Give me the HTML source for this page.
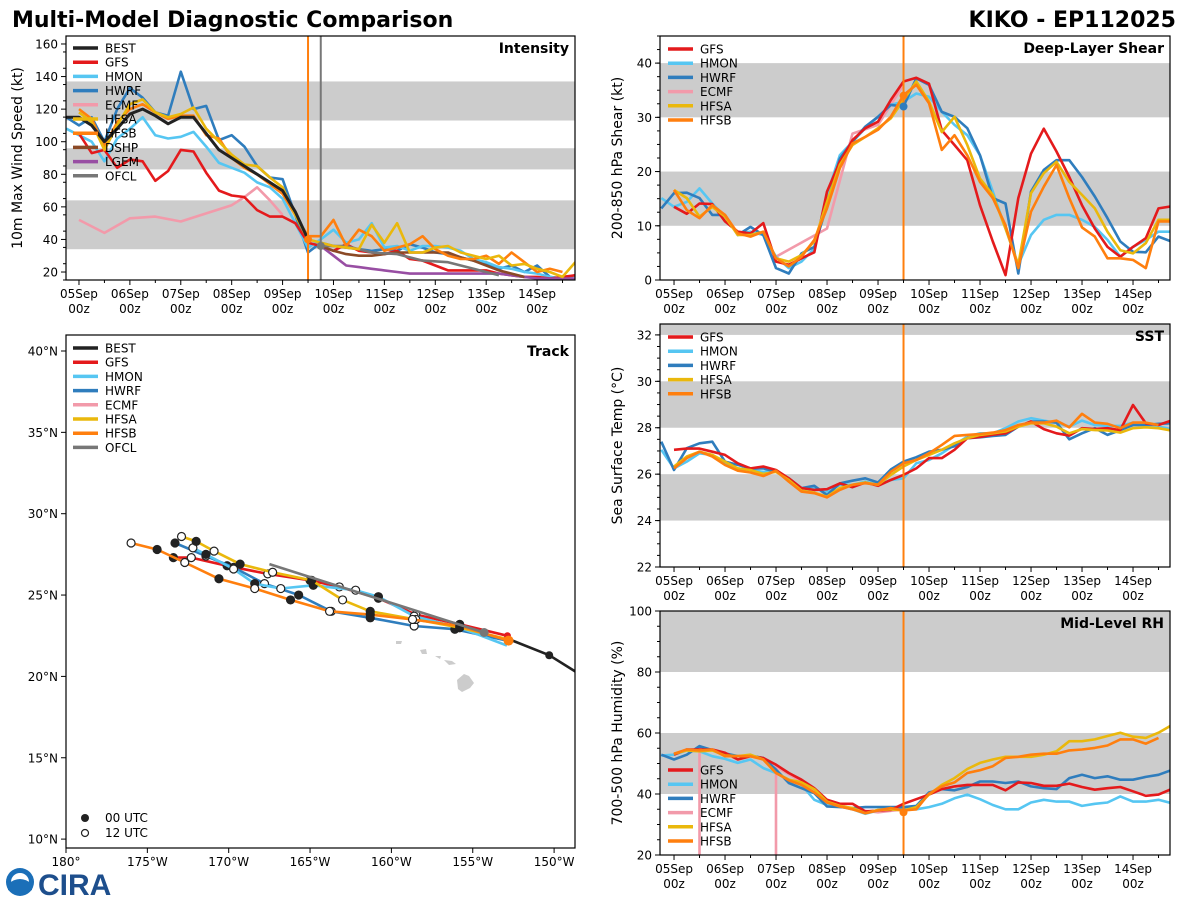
<!DOCTYPE html>
<html><head><meta charset="utf-8">
<style>
html,body{margin:0;padding:0;background:#fff;}
svg{display:block;font-family:"DejaVu Sans","Liberation Sans",sans-serif;}
</style></head>
<body>
<svg id="fig" width="1200" height="900" viewBox="0 0 1200 900" xmlns="http://www.w3.org/2000/svg">
<rect x="0" y="0" width="1200" height="900" fill="#fff"/>
<text x="12" y="27" font-size="22" font-weight="bold">Multi-Model Diagnostic Comparison</text>
<text x="1176" y="27" font-size="22" font-weight="bold" text-anchor="end">KIKO - EP112025</text>
<g>
<circle cx="20" cy="882" r="14" fill="#1b6fb8"/>
<circle cx="20" cy="882" r="9" fill="#fff"/>
<path d="M8 884 Q20 874 32 884 L32 890 Q20 896 8 890 Z" fill="#1b6fb8"/>
<text x="38" y="895" font-size="30" font-weight="bold" fill="#1d4e8c" font-family="Liberation Sans, sans-serif">CIRA</text>
</g>
</svg>
<script>
const NS='http://www.w3.org/2000/svg';
const svg=document.getElementById('fig');
// ---------- data ----------
const dayLabels=['05Sep','06Sep','07Sep','08Sep','09Sep','10Sep','11Sep','12Sep','13Sep','14Sep'];
const intTicks=[20,40,60,80,100,120,140,160];
const shearTicks=[0,10,20,30,40];
const sstTicks=[22,24,26,28,30,32];
const rhTicks=[20,40,60,80,100];
const latTicks=[10,15,20,25,30,35,40];
const lonTicks=[-180,-175,-170,-165,-160,-155,-150];
const initDay=4.5;
const ofclDay=4.75;

// intensity (6-hourly, start day given)
const intBEST=[115,115,110,100,108,117,120,116,111,115,115,105,95,90,85,80,75,70,57,40];
const intGFS=[105,93,95,84,89,88,76,82,95,94,81,70,67,66,58,54,54,50,38,36,33,37,33,32,31,33,28,27,24,21,21,21,21,19,18,17,17,16,17,18];
const intHMON=[108,104,100,88,102,108,115,104,102,103,106,97,87,84,81,75,72,65,50,35,40,46,38,40,50,35,36,33,36,36,35,33,28,26,23,22,20,19,17,16,18];
const intHWRF=[115,110,115,100,120,133,127,118,116,143,120,122,101,104,97,85,78,77,55,32,38,36,35,34,33,34,33,37,35,32,31,29,27,25,22,24,20,24,17,16,18];
const intHFSA=[118,112,95,110,123,126,118,115,117,121,108,100,92,86,85,78,72,55,40,38,36,35,34,49,38,50,32,32,35,36,32,30,28,30,24,25,22,20,17,26];
const intHFSB=[120,114,97,112,120,123,118,114,116,116,104,102,90,84,80,74,68,55,42,42,52,36,46,42,33,35,37,42,34,30,28,28,30,25,32,26,20,22,20];
const intECMFDays=[0,0.5,1,1.5,2,2.5,3,3.25,3.5,3.75,4];
const intECMF=[52,44,53,54,51,56,61,66,72,64,55];
const intDSHP=[36,33,31,30,30,31,32,32,32,32,32,29,27,24,21,19,17];
const intLGEM=[36,30,24,23,22,21,20,19,19,19,19,19,19,19,19,18,17,16,16,16,16];
const intOFCLDays=[4.75,5.25,5.75,6.25,6.75,7.25,7.75,8.25];
const intOFCL=[36,36,32,31,27,26,22,18];

// shear
const shGFS=[13.5,12.2,14.1,14.0,10.8,8.9,8.6,10.5,3.4,2.8,4.0,5.1,16.3,21.8,25.8,28,29.2,33.2,36.6,37.3,36.2,27.6,24.9,22.1,13.8,7.1,0.9,15.1,23.3,27.9,23.7,19.0,13.8,9.5,6.1,4.3,6.1,7.7,13.2,13.6];
const shHWRF=[13.2,16,16.1,15.1,12,12,8.3,9.8,8.3,2.2,1.2,4.9,6.1,13.8,22.4,25.5,28.3,30.1,32.3,32,37.2,36,31,30.1,28,23,15.1,14.1,1.2,16.3,20.3,22.1,22.1,19,15.4,11.4,7.1,5.2,5.1,8,7.1];
const shHMON=[15.1,13.5,14.4,16.9,14.1,11.7,8.6,8.9,8.3,4.3,2.2,3.4,5.8,15.7,23,25.5,28,30.1,32.3,32.9,34.4,33.8,31,28.6,26.7,23,16.3,9.5,2.8,8.3,11.1,12,12,11.1,9.8,7.4,4.3,6.1,7.4,8.9,8.9];
const shHFSA=[16.6,15.1,11.7,13.5,11.7,8.3,8.3,8.9,4,3.4,4.6,7.1,14.4,21.2,24.9,26.4,28,29.8,33.2,36.6,32.9,27.3,30.1,24.9,18.7,15.7,9.5,2.8,16,19.7,21.8,18.1,15.7,13.2,8.9,5.5,4.9,6.8,11.1,11.1];
const shHFSB=[16.6,12.9,11.4,13.8,12,8.6,8,8.9,4,2.5,4.3,7.4,13.2,20.6,25.2,26.4,27.7,30.1,34.1,36,32.6,24,26.7,23,18.1,15.1,10.1,2.2,12.6,17.2,21.2,15.1,9.7,8,4,4,3.7,2.2,10.8,10.8];
const shECMFDays=[2,3,3.5,4,4.5];
const shECMF=[4.3,9.5,27,28.6,36];

// SST
const sstGFS=[27.05,27.1,27.1,26.97,26.83,26.47,26.25,26.33,26.18,25.82,25.4,25.32,25.35,25.6,25.44,25.64,25.5,25.75,25.97,26.25,26.69,26.69,27.05,27.55,27.6,27.7,27.76,28.05,28.27,27.94,27.76,27.66,27.98,27.94,27.98,27.9,28.98,28.19,28.12,28.31];
const sstHWRF=[27.4,26.18,27.12,27.33,27.4,26.54,26.4,26.25,26.25,26.1,25.82,25.4,25.5,25.1,25.6,25.72,25.82,25.64,26.2,26.54,26.73,26.97,27.05,27.2,27.55,27.59,27.65,27.69,28.05,28.27,28.27,28.22,27.5,27.76,27.98,27.69,27.9,28.12,28.12,28.17,28.19];
const sstHMON=[27.05,26.25,26.54,26.9,26.83,26.47,26.25,26.18,26.1,26.15,25.75,25.32,25.4,25.25,25.54,25.54,25.68,25.54,25.75,25.82,26.47,26.61,26.9,27.26,27.62,27.76,27.76,27.98,28.27,28.41,28.31,28.22,28.05,28.31,28.12,28.08,28.08,28.22,28.12,28.05,27.94];
const sstHFSA=[26.33,26.76,26.97,26.83,26.54,26.25,26.18,26.01,26.1,25.75,25.29,25.2,25.03,25.4,25.54,25.64,25.54,25.97,26.33,26.61,26.83,27.05,27.33,27.55,27.69,27.76,27.84,28.05,28.19,28.19,28.05,27.76,27.94,27.9,27.88,27.79,27.98,28.02,27.98,27.88];
const sstHFSB=[26.25,26.69,26.97,26.76,26.4,26.15,26.07,25.92,26.15,25.68,25.25,25.18,25.0,25.32,25.54,25.61,25.54,26.1,26.47,26.61,26.9,27.26,27.65,27.69,27.73,27.79,27.9,28.12,28.22,28.22,28.31,28.02,28.6,28.22,28.17,27.98,28.22,28.22,28.12];

// RH
const rhGFS=[52.9,54.6,54.6,54.6,53.5,51.3,52.4,51.8,49.6,46.9,44.7,41.9,38.1,36.8,36.8,34.3,34.6,34.8,36.8,38.3,39.8,41.6,42.5,43,43,43,41.2,43.8,43.6,42.7,42.7,43.4,42.3,41.4,41.9,42.3,40.9,39.4,39.8,41.6];
const rhHWRF=[52.9,51.3,52.9,55.7,54.4,53.3,52.4,52.6,51.8,48,43.6,41.9,40.3,35.9,35.7,35.4,35.7,35.7,35.7,35.7,36.1,40.5,41.6,41.2,42.3,44.1,44.1,43.6,44.1,42.5,41.9,41.6,45.2,46.3,45.2,45.8,44.7,44.7,45.6,46.3,47.8];
const rhHMON=[52.6,52.9,54.3,54.0,52.4,51.5,50.2,51.3,48.5,46.9,44.7,43,38.1,36.4,35.9,35.0,33.5,34.6,35.0,35.0,35.0,35.7,36.8,38.6,39.8,38.3,36.4,35.0,35.0,37.2,38.1,37.5,37.5,36.1,36.8,37.2,39.2,37.5,37.5,38.1,37.0];
const rhHFSA=[53.2,54.3,54.0,54.3,52.6,52.4,52.9,51.3,46.9,44.7,43.8,41.6,37.5,36.1,35.4,33.7,34.8,35,34.6,35.7,39.8,43,45.2,48.2,50.2,51.3,52.2,52.2,52.2,52.9,54,57.3,57.3,57.9,59,60.1,58.8,58.4,60.1,62.5];
const rhHFSB=[53.2,54.6,54.3,54.6,52.4,52.4,52.4,51.3,46.9,44.5,43,40.5,37.2,35.9,35,33.7,34.6,35.4,34.6,35,40.1,42.5,43.8,46.9,47.8,49.1,51.8,52.2,52.9,53.2,53.2,54.3,54.6,55.1,55.9,57.9,57.9,56.5,58.4];
const rhECMFDays=[0.5,0.5,null,2,2,2.5,3,3.5,4,4.5];
const rhECMF=[0,55,null,0,49,44,38,35,34,35];

// track (lon, lat) 12-hourly
const trBESTLon=[-147.5,-148.7,-150.3,-152.8];
const trBESTLat=[19.6,20.3,21.3,22.3];
const trGFSLon=[-152.9,-155.8,-158.5,-160.8,-163.2,-165.0,-167.6,-170.1,-172.3,-173.4];
const trGFSLat=[22.5,23.2,23.8,24.8,25.5,25.9,26.3,26.8,27.3,27.3];
const trHMONLon=[-152.9,-155.8,-158.6,-160.8,-162.2,-164.8,-166.8,-168.4,-169.7,-171.4,-172.2];
const trHMONLat=[21.9,23.0,23.7,24.9,25.3,25.6,25.4,25.7,26.6,27.5,27.9];
const trHWRFLon=[-152.9,-156.1,-158.6,-161.3,-163.7,-165.7,-167.8,-169.7,-171.4,-173.3];
const trHWRFLat=[22.2,22.9,23.1,23.6,24.0,25.0,25.7,26.7,27.4,28.2];
const trHFSALon=[-152.9,-155.8,-158.5,-161.3,-163.0,-164.9,-167.3,-169.3,-170.9,-172.0,-172.9];
const trHFSALat=[22.3,23.0,23.5,24.0,24.7,25.9,26.4,26.9,27.7,28.3,28.6];
const trHFSBLon=[-152.8,-155.8,-158.7,-161.3,-163.8,-166.2,-168.4,-170.6,-172.7,-174.4,-176.0];
const trHFSBLat=[22.2,23.1,23.5,23.8,24.0,24.7,25.4,26.0,27.0,27.8,28.2];
const trOFCLLon=[-154.3,-167.5];
const trOFCLLat=[22.7,26.9];

const C={BEST:'#222222',GFS:'#e41a1c',HMON:'#56c6f2',HWRF:'#2f7dbd',ECMF:'#f29aaa',HFSA:'#eab80c',HFSB:'#ff7f0e',DSHP:'#8b4a26',LGEM:'#984ea3',OFCL:'#777777'};

// ---------- helpers ----------
function mk(tag,attrs,parent){
  const e=document.createElementNS(NS,tag);
  for(const k in attrs)e.setAttribute(k,attrs[k]);
  (parent||svg).appendChild(e);
  return e;
}
function txt(s,attrs,parent){const t=mk('text',attrs,parent);t.textContent=s;return t;}

function panel(p,name){
  p.sx=d=>p.x0+(d-p.dmin)/(p.dmax-p.dmin)*(p.x1-p.x0);
  p.sy=v=>p.y1-(v-p.vmin)/(p.vmax-p.vmin)*(p.y1-p.y0);
  const g=mk('g',{});
  
  
  p.g=g;
  const cp=mk('clipPath',{id:name+'-clip'},g);
  mk('rect',{x:p.x0,y:p.y0,width:p.x1-p.x0,height:p.y1-p.y0},cp);
  p.clip='url(#'+name+'-clip)';
  return p;
}
function bands(p,list){
  list.forEach(b=>{
    const r=mk('rect',{x:p.x0,y:p.sy(Math.min(b[1],p.vmax)),width:p.x1-p.x0,height:p.sy(b[0])-p.sy(Math.min(b[1],p.vmax)),fill:'#cccccc'},p.g);
    
    
  });
}
function series(p,days,vals,color,name,w){
  let d='',pen=false;
  for(let i=0;i<vals.length;i++){
    if(vals[i]===null||days[i]===null){pen=false;continue;}
    d+=(pen?'L':'M')+p.sx(days[i]).toFixed(1)+' '+p.sy(vals[i]).toFixed(1);
    pen=true;
  }
  const e=mk('path',{d:d,fill:'none',stroke:color,'stroke-width':w||2.6,'stroke-linejoin':'round','clip-path':p.clip},p.g);
  
  
}
function stepDays(start,n){const a=[];for(let i=0;i<n;i++)a.push(start+i*0.25);return a;}
function vline(p,d,color,name){
  const e=mk('line',{x1:p.sx(d),x2:p.sx(d),y1:p.y0,y2:p.y1,stroke:color,'stroke-width':2},p.g);
  
  
}
function dot(p,d,v,color,name){
  const e=mk('circle',{cx:p.sx(d),cy:p.sy(v),r:4,fill:color},p.g);
  
  
}
function frame(p,yt,minorStep,ytitle,title){
  const f=mk('rect',{x:p.x0,y:p.y0,width:p.x1-p.x0,height:p.y1-p.y0,fill:'none',stroke:'#000','stroke-width':1.2},p.g);
  
  
  // x ticks
  for(let d=0;d<=9.5;d+=0.5){
    const x=p.sx(d);const major=(d%1===0);
    mk('line',{x1:x,x2:x,y1:p.y1,y2:p.y1+(major?5:3),stroke:'#000','stroke-width':1},p.g);
  }
  dayLabels.forEach((s,i)=>{
    const t=txt(s,{x:p.sx(i),y:p.y1+18,'font-size':12,'text-anchor':'middle'},p.g);
    
    
    const t2=txt('00z',{x:p.sx(i),y:p.y1+33,'font-size':12,'text-anchor':'middle'},p.g);
    
    
  });
  for(let v=p.vmin;v<=p.vmax+1e-6;v+=minorStep){
    const y=p.sy(v);if(y<p.y0-0.5)continue;
    mk('line',{x1:p.x0-3,x2:p.x0,y1:y,y2:y,stroke:'#000','stroke-width':1},p.g);
  }
  yt.forEach(v=>{
    const y=p.sy(v);
    mk('line',{x1:p.x0-5,x2:p.x0,y1:y,y2:y,stroke:'#000','stroke-width':1},p.g);
    const t=txt(String(v),{x:p.x0-8,y:y+4.5,'font-size':12,'text-anchor':'end'},p.g);
    
    
  });
  const cy=(p.y0+p.y1)/2;
  const yl=txt(ytitle,{x:p.ytx,y:cy,'font-size':14,'text-anchor':'middle',transform:'rotate(-90 '+p.ytx+' '+cy+')'},p.g);
  
  
  const tt=txt(title,{x:p.x1-6,y:p.y0+17,'font-size':14,'font-weight':'bold','text-anchor':'end'},p.g);
  
  
}
function legend(g,x,y,names){
  names.forEach((n,i)=>{
    const lg=mk('g',{},g);
    
    
    mk('line',{x1:x,x2:x+25,y1:y+i*14.2,y2:y+i*14.2,stroke:C[n],'stroke-width':3.5},lg);
    txt(n,{x:x+32,y:y+i*14.2+4.5,'font-size':12},lg);
  });
}

// ---------- Intensity ----------
const PI=panel({x0:66,x1:575,y0:36,y1:280,dmin:-0.255,dmax:9.745,vmin:15.1,vmax:164.9,ytx:22},'intensity');
bands(PI,[[34,64],[83,96],[113,137]]);
series(PI,intECMFDays,intECMF,C.ECMF,'ecmf-intensity');
series(PI,stepDays(-0.25,intHWRF.length),intHWRF,C.HWRF,'hwrf-intensity');
series(PI,stepDays(-0.25,intHMON.length),intHMON,C.HMON,'hmon-intensity');
series(PI,stepDays(0,intGFS.length),intGFS,C.GFS,'gfs-intensity');
series(PI,stepDays(ofclDay,intLGEM.length),intLGEM,C.LGEM,'lgem-intensity');
series(PI,stepDays(ofclDay,intDSHP.length),intDSHP,C.DSHP,'dshp-intensity');
series(PI,intOFCLDays,intOFCL,C.OFCL,'ofcl-intensity');
series(PI,stepDays(0,intHFSB.length),intHFSB,C.HFSB,'hfsb-intensity');
series(PI,stepDays(0,intHFSA.length),intHFSA,C.HFSA,'hfsa-intensity');
series(PI,stepDays(-0.25,intBEST.length),intBEST,C.BEST,'best-intensity',3);
vline(PI,initDay,C.HFSB,'init-time-line');
vline(PI,ofclDay,C.OFCL,'ofcl-time-line');
dot(PI,initDay,40,C.HFSB,'init-marker');
dot(PI,ofclDay,36,C.OFCL,'ofcl-marker');
frame(PI,intTicks,10,'10m Max Wind Speed (kt)','Intensity');
legend(PI.g,73,48,['BEST','GFS','HMON','HWRF','ECMF','HFSA','HFSB','DSHP','LGEM','OFCL']);

// ---------- Shear ----------
const PS=panel({x0:660,x1:1170,y0:36,y1:280,dmin:-0.275,dmax:9.725,vmin:0,vmax:45,ytx:622},'shear');
bands(PS,[[10,20],[30,40]]);
series(PS,shECMFDays,shECMF,C.ECMF,'ecmf-shear');
series(PS,stepDays(-0.25,shHMON.length),shHMON,C.HMON,'hmon-shear');
series(PS,stepDays(-0.25,shHWRF.length),shHWRF,C.HWRF,'hwrf-shear');
series(PS,stepDays(0,shGFS.length),shGFS,C.GFS,'gfs-shear');
series(PS,stepDays(0,shHFSA.length),shHFSA,C.HFSA,'hfsa-shear');
series(PS,stepDays(0,shHFSB.length),shHFSB,C.HFSB,'hfsb-shear');
vline(PS,initDay,C.HFSB,'init-time-line');
dot(PS,initDay,32,C.HWRF,'hwrf-init-marker');
dot(PS,initDay,34,C.HFSB,'init-marker');
frame(PS,shearTicks,2.5,'200-850 hPa Shear (kt)','Deep-Layer Shear');
legend(PS.g,668,49,['GFS','HMON','HWRF','ECMF','HFSA','HFSB']);

// ---------- SST ----------
const PT=panel({x0:660,x1:1170,y0:324,y1:567,dmin:-0.275,dmax:9.725,vmin:22,vmax:32.47,ytx:622},'sst');
bands(PT,[[24,26],[28,30],[32,33]]);
series(PT,stepDays(-0.25,sstHMON.length),sstHMON,C.HMON,'hmon-sst');
series(PT,stepDays(-0.25,sstHWRF.length),sstHWRF,C.HWRF,'hwrf-sst');
series(PT,stepDays(0,sstGFS.length),sstGFS,C.GFS,'gfs-sst');
series(PT,stepDays(0,sstHFSA.length),sstHFSA,C.HFSA,'hfsa-sst');
series(PT,stepDays(0,sstHFSB.length),sstHFSB,C.HFSB,'hfsb-sst');
vline(PT,initDay,C.HFSB,'init-time-line');
frame(PT,sstTicks,0.5,'Sea Surface Temp (°C)','SST');
legend(PT.g,668,337,['GFS','HMON','HWRF','HFSA','HFSB']);

// ---------- RH ----------
const PR=panel({x0:660,x1:1170,y0:611,y1:855,dmin:-0.275,dmax:9.725,vmin:20,vmax:100,ytx:622},'rh');
bands(PR,[[40,60],[80,100]]);
series(PR,rhECMFDays,rhECMF,C.ECMF,'ecmf-rh');
series(PR,stepDays(-0.25,rhHMON.length),rhHMON,C.HMON,'hmon-rh');
series(PR,stepDays(-0.25,rhHWRF.length),rhHWRF,C.HWRF,'hwrf-rh');
series(PR,stepDays(0,rhGFS.length),rhGFS,C.GFS,'gfs-rh');
series(PR,stepDays(0,rhHFSA.length),rhHFSA,C.HFSA,'hfsa-rh');
series(PR,stepDays(0,rhHFSB.length),rhHFSB,C.HFSB,'hfsb-rh');
vline(PR,initDay,C.HFSB,'init-time-line');
dot(PR,initDay,34,C.HFSB,'init-marker');
frame(PR,rhTicks,5,'700-500 hPa Humidity (%)','Mid-Level RH');
legend(PR.g,668,770,['GFS','HMON','HWRF','ECMF','HFSA','HFSB']);

// ---------- Track ----------
const TK={x0:66,x1:575,y0:335,y1:848};
const tx=lon=>TK.x0+(lon+180)*16.27;
const ty=lat=>351+(40-lat)*16.27;
const tg=mk('g',{});


const tcp=mk('clipPath',{id:'track-clip'},tg);
mk('rect',{x:TK.x0,y:TK.y0,width:TK.x1-TK.x0,height:TK.y1-TK.y0},tcp);
// Hawaiian islands
const isl=mk('g',{fill:'#cccccc'},tg);


mk('path',{d:'M457 680 L464 674 L469 676 L474 683 L470 688 L462 692 L458 689 Z'},isl);
mk('path',{d:'M444 660 L452 661 L456 664 L449 665 Z'},isl);
mk('path',{d:'M435 656 L441 656 L440 659 Z'},isl);
mk('path',{d:'M420 650 L426 649 L427 654 L422 654 Z'},isl);
mk('path',{d:'M396 641 L402 641 L401 644 L396 644 Z'},isl);
function track(lons,lats,color,name,markers){
  const gg=mk('g',{'clip-path':'url(#track-clip)'},tg);
  
  
  let d='';
  lons.forEach((lo,i)=>{d+=(i?'L':'M')+tx(lo).toFixed(1)+' '+ty(lats[i]).toFixed(1);});
  mk('path',{d:d,fill:'none',stroke:color,'stroke-width':2.6,'stroke-linejoin':'round'},gg);
  if(markers){
    for(let i=1;i<lons.length;i++){
      const filled=(i%2===1);
      const c=mk('circle',{cx:tx(lons[i]),cy:ty(lats[i]),r:4,fill:filled?'#222':'#fff',stroke:'#222','stroke-width':1.2},gg);
      
      
    }
  }
}
track(trGFSLon,trGFSLat,C.GFS,'gfs',true);
track(trHWRFLon,trHWRFLat,C.HWRF,'hwrf',true);
track(trHMONLon,trHMONLat,C.HMON,'hmon',true);
track(trHFSALon,trHFSALat,C.HFSA,'hfsa',true);
track(trHFSBLon,trHFSBLat,C.HFSB,'hfsb',true);
track(trOFCLLon,trOFCLLat,C.OFCL,'ofcl',false);
track(trBESTLon,trBESTLat,C.BEST,'best',false);
const bm=mk('circle',{cx:tx(trBESTLon[2]),cy:ty(trBESTLat[2]),r:4,fill:'#222'},tg);


const om=mk('circle',{cx:tx(trOFCLLon[0]),cy:ty(trOFCLLat[0]),r:4.5,fill:C.OFCL},tg);


const rm=mk('circle',{cx:tx(trGFSLon[0])+0.5,cy:ty(trGFSLat[0]),r:3.5,fill:C.GFS},tg);


const hm=mk('circle',{cx:tx(trHFSBLon[0]),cy:ty(trHFSBLat[0]),r:5,fill:C.HFSB},tg);


const tf=mk('rect',{x:TK.x0,y:TK.y0,width:TK.x1-TK.x0,height:TK.y1-TK.y0,fill:'none',stroke:'#000','stroke-width':1.2},tg);


lonTicks.forEach(lo=>{
  const x=tx(lo);
  mk('line',{x1:x,x2:x,y1:TK.y1,y2:TK.y1+5,stroke:'#000'},tg);
  const t=txt(lo===-180?'180°':(-lo)+'°W',{x:x,y:TK.y1+18,'font-size':12,'text-anchor':'middle'},tg);
  
  
});
latTicks.forEach(la=>{
  const y=ty(la);
  mk('line',{x1:TK.x0-5,x2:TK.x0,y1:y,y2:y,stroke:'#000'},tg);
  const t=txt(la+'°N',{x:TK.x0-8,y:y+4.5,'font-size':12,'text-anchor':'end'},tg);
  
  
});
const ttl=txt('Track',{x:TK.x1-6,y:TK.y0+21,'font-size':14,'font-weight':'bold','text-anchor':'end'},tg);


legend(tg,73,348,['BEST','GFS','HMON','HWRF','ECMF','HFSA','HFSB','OFCL']);
const l0=mk('g',{},tg);


mk('circle',{cx:85,cy:818,r:4,fill:'#222'},l0);
txt('00 UTC',{x:105,y:822,'font-size':12},l0);
const l1=mk('g',{},tg);


mk('circle',{cx:85,cy:833,r:3.5,fill:'#fff',stroke:'#222','stroke-width':1.2},l1);
txt('12 UTC',{x:105,y:837,'font-size':12},l1);
</script>
</body></html>
